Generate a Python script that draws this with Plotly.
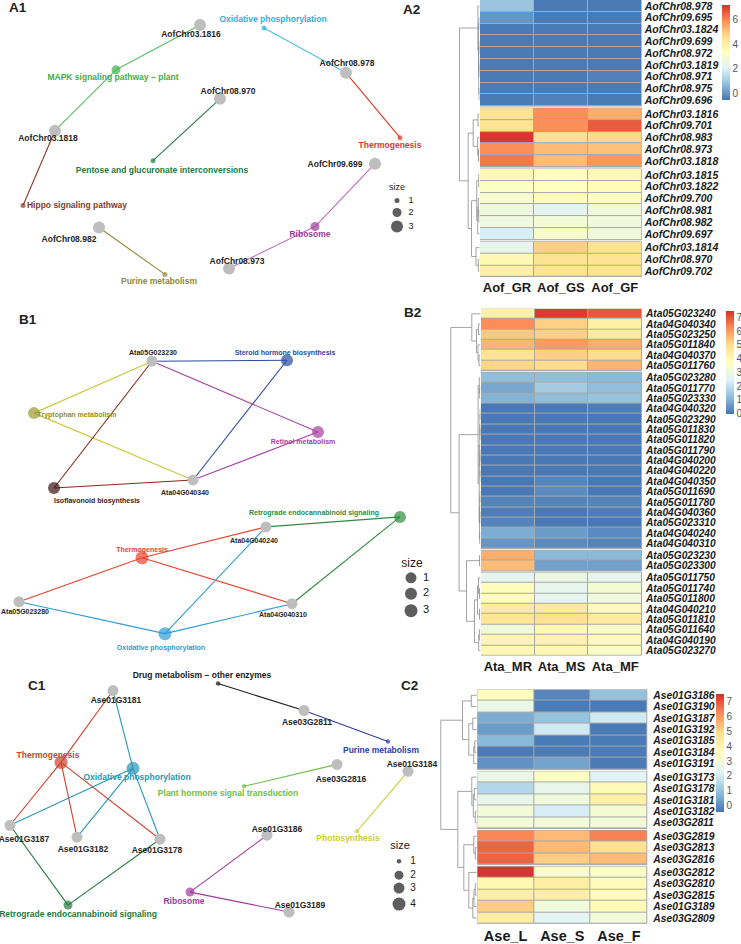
import plotly.graph_objects as go

W, H = 741, 944
FONT = "Liberation Sans, Arial, sans-serif"

# ======================= HEATMAP DATA =======================
A_COLS = ["Aof_GR", "Aof_GS", "Aof_GF"]
A_ROWS = ["AofChr08.978", "AofChr09.695", "AofChr03.1824", "AofChr09.699", "AofChr08.972",
          "AofChr03.1819", "AofChr08.971", "AofChr08.975", "AofChr09.696",
          "AofChr03.1816", "AofChr09.701", "AofChr08.983", "AofChr08.973", "AofChr03.1818",
          "AofChr03.1815", "AofChr03.1822", "AofChr09.700", "AofChr08.981", "AofChr08.982",
          "AofChr09.697", "AofChr03.1814", "AofChr08.970", "AofChr09.702"]
A_VALS = [[0.9, -0.45, -0.45], [0.0, -0.45, -0.45], [-0.45, -0.45, -0.45], [-0.45, -0.45, -0.45],
          [-0.45, -0.45, -0.45], [-0.45, -0.45, -0.45], [-0.45, -0.45, -0.35], [-0.45, -0.45, -0.45],
          [-0.45, -0.35, -0.45],
          [4.5, 5.9, 5.4], [4.5, 5.9, 6.6], [7.1, 4.6, 4.7], [5.9, 5.2, 5.1], [6.2, 5.2, 5.8],
          [3.6, 3.4, 3.6], [3.2, 3.3, 3.5], [3.0, 3.5, 3.2], [2.6, 2.2, 2.7], [2.6, 2.8, 2.7],
          [1.9, 3.0, 2.7], [2.3, 4.9, 4.5], [3.6, 4.5, 4.5], [4.0, 4.5, 4.5]]
A_GROUPS = [9, 5, 6, 3]
A_LINK = [[1, 2, 0.4], [3, 4, 0.3], [5, 6, 0.4], [7, 8, 0.3], [24, 25, 0.6], [27, 26, 0.8],
          [23, 28, 1.0], [0, 29, 1.6],
          [9, 10, 1.5], [12, 13, 1.0], [11, 32, 1.8], [31, 33, 6.3],
          [14, 15, 0.8], [17, 18, 0.6], [16, 36, 1.2], [37, 19, 1.8], [35, 38, 2.8],
          [21, 22, 1.2], [20, 40, 3.5], [39, 41, 8.0], [34, 42, 11.3], [30, 43, 20.0]]

B_COLS = ["Ata_MR", "Ata_MS", "Ata_MF"]
B_ROWS = ["Ata05G023240", "Ata04G040340", "Ata05G023250", "Ata05G011840", "Ata04G040370",
          "Ata05G011760", "Ata05G023280", "Ata05G011770", "Ata05G023330", "Ata04G040320",
          "Ata05G023290", "Ata05G011830", "Ata05G011820", "Ata05G011790", "Ata04G040200",
          "Ata04G040220", "Ata04G040350", "Ata05G011690", "Ata05G011780", "Ata04G040360",
          "Ata05G023310", "Ata04G040240", "Ata04G040310", "Ata05G023230", "Ata05G023300",
          "Ata05G011750", "Ata05G011740", "Ata05G011800", "Ata04G040210", "Ata05G011810",
          "Ata05G011640", "Ata04G040190", "Ata05G023270"]
B_VALS = [[4.3, 7.3, 6.9], [6.2, 5.2, 4.3], [5.3, 5.2, 4.5], [5.6, 6.0, 5.7], [4.8, 5.2, 5.0],
          [5.1, 5.0, 5.6], [1.2, 1.2, 1.1], [0.8, 1.5, 1.2], [1.0, 1.2, 1.3], [0.0, 0.0, 0.1],
          [0.0, 0.0, 0.0], [0.0, 0.0, 0.0], [0.0, 0.0, 0.0], [0.0, 0.0, 0.0], [0.0, 0.0, 0.0],
          [0.0, 0.0, 0.0], [0.0, 0.2, 0.0], [0.0, 0.3, 0.0], [0.2, 0.2, 0.2], [0.1, 0.0, 0.1],
          [0.2, 0.0, 0.0], [0.9, 0.6, 0.3], [0.5, 0.3, 0.2], [5.7, 1.1, 1.1], [5.5, 0.7, 0.7],
          [2.6, 2.9, 2.7], [3.8, 2.7, 3.3], [3.8, 2.7, 3.1], [4.5, 4.6, 3.9], [4.7, 4.9, 4.5],
          [3.1, 4.0, 3.5], [4.1, 4.2, 3.9], [4.0, 4.0, 3.5]]
B_GROUPS = [6, 17, 2, 8]
B_LINK = [[1, 2, 2.0], [4, 5, 1.5], [3, 34, 2.5], [33, 35, 4.0], [0, 36, 8.7],
          [7, 8, 0.8], [6, 38, 1.2], [9, 10, 0.3], [11, 12, 0.3], [40, 41, 0.5], [13, 14, 0.3],
          [15, 16, 0.3], [43, 44, 0.5], [42, 45, 0.7], [17, 18, 0.4], [19, 20, 0.4], [47, 48, 0.6],
          [21, 22, 0.8], [49, 50, 1.0], [46, 51, 1.3], [39, 52, 2.4],
          [23, 24, 1.0],
          [26, 27, 1.0], [25, 55, 2.0], [28, 29, 1.0], [56, 57, 3.0], [30, 31, 1.2], [59, 32, 1.8],
          [58, 60, 6.0], [54, 61, 14.0], [53, 62, 21.4], [37, 63, 29.7]]

C_COLS = ["Ase_L", "Ase_S", "Ase_F"]
C_ROWS = ["Ase01G3186", "Ase01G3190", "Ase01G3187", "Ase01G3192", "Ase01G3185", "Ase01G3184",
          "Ase01G3191", "Ase01G3173", "Ase01G3178", "Ase01G3181", "Ase01G3182", "Ase03G2811",
          "Ase03G2819", "Ase03G2813", "Ase03G2816", "Ase03G2812", "Ase03G2810", "Ase03G2815",
          "Ase01G3189", "Ase03G2809"]
C_VALS = [[3.6, -0.1, 1.0], [2.7, -0.3, -0.3], [0.6, 1.0, 2.0], [0.3, 2.0, -0.3], [0.8, -0.3, -0.3],
          [-0.3, -0.3, -0.3], [0.1, 0.4, -0.3], [2.7, 3.5, 2.3], [1.5, 2.6, 3.8], [2.6, 2.9, 4.2],
          [3.0, 2.1, 3.1], [3.0, 3.0, 3.0], [6.3, 5.5, 6.4], [6.8, 5.5, 4.8], [6.8, 5.2, 5.5],
          [7.5, 3.4, 3.4], [3.9, 4.3, 3.7], [4.3, 4.3, 3.7], [5.2, 2.9, 3.8], [4.3, 2.4, 3.0]]
C_GROUPS = [7, 5, 3, 5]
C_LINK = [[0, 1, 5.5], [2, 3, 4.0], [4, 5, 2.0], [22, 6, 3.0], [21, 23, 8.0], [20, 24, 14.3],
          [8, 9, 2.5], [10, 11, 1.5], [26, 27, 3.5], [7, 28, 5.0],
          [13, 14, 1.5], [12, 30, 3.0],
          [16, 17, 1.5], [32, 18, 2.8], [33, 19, 4.0], [15, 34, 8.0],
          [31, 35, 13.0], [29, 36, 19.0], [25, 37, 36.0]]

A_CTICKS = [0, 2, 4, 6]
B_CTICKS = [0, 1, 2, 3, 4, 5, 6, 7]
C_CTICKS = [0, 1, 2, 3, 4, 5, 6, 7]

# ======================= NETWORK DATA =======================
A_GENES = ["AofChr03.1816", "AofChr08.978", "AofChr08.970", "AofChr03.1818",
           "AofChr09.699", "AofChr08.982", "AofChr08.973"]
A_PATHS = ["Oxidative phosphorylation", "MAPK signaling pathway \u2212 plant", "Thermogenesis",
           "Pentose and glucuronate interconversions", "Hippo signaling pathway", "Ribosome",
           "Purine metabolism"]
A_PSIZE = [1, 2, 1, 1, 1, 2, 1]
A_EDGES = [("AofChr03.1816", 1), ("AofChr03.1818", 1), ("AofChr03.1818", 4),
           ("AofChr08.978", 0), ("AofChr08.978", 2), ("AofChr08.970", 3),
           ("AofChr09.699", 5), ("AofChr08.973", 5), ("AofChr08.982", 6)]

B_GENES = ["Ata05G023230", "Ata04G040340", "Ata04G040240", "Ata05G023280", "Ata04G040310"]
B_PATHS = ["Steroid hormone biosynthesis", "Tryptophan metabolism", "Retinol metabolism",
           "Isoflavonoid biosynthesis", "Retrograde endocannabinoid signaling", "Thermogenesis",
           "Oxidative phosphorylation"]
B_PSIZE = [2, 2, 2, 2, 2, 3, 3]
B_EDGES = [("Ata05G023230", 0), ("Ata05G023230", 1), ("Ata05G023230", 3), ("Ata05G023230", 2),
           ("Ata04G040340", 0), ("Ata04G040340", 1), ("Ata04G040340", 3), ("Ata04G040340", 2),
           ("Ata04G040240", 4), ("Ata04G040240", 5), ("Ata04G040240", 6),
           ("Ata05G023280", 5), ("Ata05G023280", 6),
           ("Ata04G040310", 5), ("Ata04G040310", 6), ("Ata04G040310", 4)]

C_GENES = ["Ase01G3181", "Ase03G2811", "Ase03G2816", "Ase01G3184", "Ase01G3187", "Ase01G3182",
           "Ase01G3178", "Ase01G3186", "Ase01G3189"]
C_PATHS = ["Drug metabolism \u2212 other enzymes", "Purine metabolism", "Thermogenesis",
           "Oxidative phosphorylation", "Plant hormone signal transduction", "Photosynthesis",
           "Ribosome", "Retrograde endocannabinoid signaling"]
C_PSIZE = [1, 1, 4, 4, 1, 1, 2, 2]
C_EDGES = [("Ase03G2811", 0), ("Ase03G2811", 1), ("Ase01G3181", 2), ("Ase01G3181", 3),
           ("Ase01G3187", 2), ("Ase01G3182", 2), ("Ase01G3178", 2),
           ("Ase01G3187", 3), ("Ase01G3182", 3), ("Ase01G3178", 3),
           ("Ase01G3187", 7), ("Ase01G3178", 7), ("Ase03G2816", 4), ("Ase01G3184", 5),
           ("Ase01G3186", 6), ("Ase01G3189", 6)]

# ---- network layout (graph layout coordinates, page-pixel units) ----
A_GXY = [(200, 25), (346, 73), (220, 99), (55, 131), (375, 164), (99, 228), (229, 269)]
A_GLAB = [(191, 35), (347, 64), (228, 92), (48, 139), (335, 165), (69, 240), (237, 262)]
A_PXY = [(264, 28), (116, 70), (400, 138), (153, 161), (23, 206), (315, 227), (165, 275)]
A_PLAB = [(273, 20), (113, 78), (390, 146), (162, 171), (77, 206), (310, 235), (159, 282)]
A_PCOL = ["#2BB3D5", "#3DB049", "#E0392B", "#237A43", "#8B3A28", "#9E3C9C", "#8E8A3A"]
A_ECOL = ["#4CC0DD", "#5BBE63", "#E0392B", "#237A43", "#8B3A28", "#C06CC0", "#8E8A3A"]

B_GXY = [(152, 362), (193, 481), (266, 528), (19, 603), (292, 605)]
B_GLAB = [(153, 354), (185, 494), (254, 542), (25, 614), (283, 617)]
B_PXY = [(287, 361), (34, 414), (318, 433), (54, 489), (400, 518), (142, 559), (165, 635)]
B_PLAB = [(285, 354), (77, 416), (303, 443), (97, 502), (314, 514), (142, 551), (161, 650)]
B_PCOL = ["#2A4A9F", "#9A9A32", "#A640A3", "#3A1414", "#2E8B3F", "#E8412F", "#2F9BD5"]
B_ECOL = ["#2A4A9F", "#CACA3C", "#A640A3", "#8A2A18", "#2E8B3F", "#E8412F", "#2F9BD5"]
B_LCOL = ["#2A4A9F", "#8F8F30", "#A640A3", "#3A1A1A", "#2E8B3F", "#E8412F", "#2F9BD5"]

C_GXY = [(113, 692), (304, 712), (337, 766), (408, 773), (10, 827), (77, 839), (160, 841),
         (267, 837), (289, 914)]
C_GLAB = [(116, 702), (307, 724), (341, 782), (412, 767), (24, 842), (83, 852), (157, 853),
          (277, 832), (300, 908)]
C_PXY = [(218, 685), (388, 743), (61, 764), (133, 770), (244, 788), (357, 833), (190, 894),
         (68, 907)]
C_PLAB = [(202, 677), (381, 752), (48, 757), (137, 780), (228, 796), (348, 841), (184, 904),
          (78, 917)]
C_PCOL = ["#1A1A1A", "#2B3FA0", "#D0402E", "#2A95B8", "#6DBE45", "#CCCC33", "#A0399E", "#237A40"]

RDYLBU7 = ["#4575B4", "#91BFDB", "#E0F3F8", "#FFFFBF", "#FEE090", "#FC8D59", "#D73027"]
CSCALE = [[i / 6, c] for i, c in enumerate(RDYLBU7)]

fig = go.Figure()
layout = dict(width=W, height=H, margin=dict(l=0, r=0, t=0, b=0),
              paper_bgcolor="white", plot_bgcolor="white", showlegend=False)
shapes = []
annotations = []


def px_x(x):
    return x / W


def px_y(y):
    return 1 - y / H


def hide_axis(**kw):
    d = dict(visible=False, showgrid=False, zeroline=False, fixedrange=True)
    d.update(kw)
    return d


# ======================= NETWORKS =======================
def add_network(k, ytop, ybot, genes, gxy, glab, paths, pxy, plab, psize, pcol, ecol, lcol,
                edges, smap, gene_d, fsize, weight, legend):
    xa, ya = f"x{k}", f"y{k}"
    layout[f"xaxis{k}"] = hide_axis(domain=[0, px_x(440)], range=[0, 440], anchor=ya)
    layout[f"yaxis{k}"] = hide_axis(domain=[px_y(ybot), px_y(ytop)], range=[ybot, ytop], anchor=xa)
    gidx = {g: i for i, g in enumerate(genes)}
    for p in range(len(paths)):
        ex, ey = [], []
        for g, pi in edges:
            if pi == p:
                ex += [pxy[p][0], gxy[gidx[g]][0], None]
                ey += [pxy[p][1], gxy[gidx[g]][1], None]
        if ex:
            fig.add_trace(go.Scatter(x=ex, y=ey, mode="lines", xaxis=xa, yaxis=ya,
                                     line=dict(color=ecol[p], width=1.1), hoverinfo="skip"))
    fig.add_trace(go.Scatter(x=[c[0] for c in gxy], y=[c[1] for c in gxy], mode="markers",
                             xaxis=xa, yaxis=ya, hoverinfo="skip",
                             marker=dict(size=gene_d, color="#BEBEBE", line=dict(width=0))))
    fig.add_trace(go.Scatter(x=[c[0] for c in pxy], y=[c[1] for c in pxy], mode="markers",
                             xaxis=xa, yaxis=ya, hoverinfo="skip",
                             marker=dict(size=[smap[s] for s in psize], color=pcol,
                                         line=dict(width=0))))
    fig.add_trace(go.Scatter(x=[c[0] for c in glab] + [c[0] for c in plab],
                             y=[c[1] for c in glab] + [c[1] for c in plab],
                             text=genes + paths, mode="text", xaxis=xa, yaxis=ya,
                             cliponaxis=False, hoverinfo="skip",
                             textfont=dict(family=FONT, size=fsize, weight=weight,
                                           color=["#262626"] * len(genes) + lcol)))
    (tx, ty, tsize), cx, cys, lx, lsize = legend
    levels = sorted(smap.keys())
    fig.add_trace(go.Scatter(x=[cx] * len(levels), y=cys, mode="markers", xaxis=xa, yaxis=ya,
                             hoverinfo="skip",
                             marker=dict(size=[smap[s] for s in levels], color="#1A1A1A",
                                         line=dict(width=0))))
    fig.add_trace(go.Scatter(x=[tx] + [lx] * len(levels), y=[ty] + cys,
                             text=["size"] + [str(s) for s in levels], mode="text",
                             xaxis=xa, yaxis=ya, cliponaxis=False, hoverinfo="skip",
                             textfont=dict(family=FONT, size=[tsize] + [lsize] * len(levels),
                                           color="#1A1A1A")))


add_network(1, 0, 300, A_GENES, A_GXY, A_GLAB, A_PATHS, A_PXY, A_PLAB, A_PSIZE, A_PCOL, A_ECOL,
            A_PCOL, A_EDGES, {1: 5, 2: 9, 3: 12}, 12, 8.5, "bold",
            ((397, 188, 9), 397, [201, 213, 227], 411, 9))
add_network(2, 300, 660, B_GENES, B_GXY, B_GLAB, B_PATHS, B_PXY, B_PLAB, B_PSIZE, B_PCOL, B_ECOL,
            B_LCOL, B_EDGES, {1: 11, 2: 12, 3: 13}, 11, 7, "bold",
            ((412, 565, 12), 411, [579, 595, 612], 426, 11))
add_network(3, 660, 944, C_GENES, C_GXY, C_GLAB, C_PATHS, C_PXY, C_PLAB, C_PSIZE, C_PCOL, C_PCOL,
            C_PCOL, C_EDGES, {1: 4.5, 2: 9, 3: 11, 4: 13}, 11, 8.5, "bold",
            ((400, 848, 11), 399, [863, 877, 890, 906], 413, 10))


# ======================= HEATMAPS =======================
def row_centers(groups, gap):
    cs, off, i = [], 0.0, 0
    for gi, g in enumerate(groups):
        for _ in range(g):
            cs.append(off + i + 0.5)
            i += 1
        off += gap
    return cs, off - gap + i


def add_heatmap(k, dk, cax, rows, cols, vals, groups, link, box, gap, rfont, cfont,
                rstand, cstand, cbar):
    left, right, top, bot = box
    xa, ya, xd = f"x{k}", f"y{k}", f"x{dk}"
    cs, total = row_centers(groups, gap)
    layout[f"xaxis{k}"] = dict(domain=[px_x(left), px_x(right)], range=[-0.5, 2.5], anchor=ya,
                               tickvals=[0, 1, 2], ticktext=[f"<b>{c}</b>" for c in cols],
                               ticks="", showgrid=False, zeroline=False, showline=False,
                               tickfont=dict(family=FONT, size=cfont, color="#1A1A1A"),
                               ticklabelstandoff=cstand, ticklabeloverflow="allow",
                               fixedrange=True)
    layout[f"yaxis{k}"] = dict(domain=[px_y(bot), px_y(top)], range=[total, 0], anchor=xa,
                               side="right", tickvals=cs,
                               ticktext=[f"<b><i>{r}</i></b>" for r in rows],
                               ticks="", showgrid=False, zeroline=False, showline=False,
                               tickfont=dict(family=FONT, size=rfont, color="#1A1A1A"),
                               ticklabelstandoff=rstand, ticklabeloverflow="allow",
                               fixedrange=True)
    start = 0
    for g in groups:
        yy = cs[start:start + g]
        shapes.append(dict(type="rect", xref=xa, yref=ya, x0=-0.5, x1=2.5,
                           y0=yy[0] - 0.5, y1=yy[-1] + 0.5, layer="below",
                           fillcolor="#A8A8A8", line=dict(color="#A8A8A8", width=1)))
        fig.add_trace(go.Heatmap(x=[0, 1, 2], y=yy, z=vals[start:start + g], xaxis=xa, yaxis=ya,
                                 coloraxis=cax, xgap=1, ygap=1, hoverinfo="skip"))
        start += g
    n = len(rows)
    pos = {i: (0.0, cs[i]) for i in range(n)}
    dx, dy = [], []
    for j, (a, b, h) in enumerate(link):
        ha, ya_ = pos[a]
        hb, yb = pos[b]
        dx += [ha, h, h, hb, None]
        dy += [ya_, ya_, yb, yb, None]
        pos[n + j] = (h, (ya_ + yb) / 2)
    root = link[-1][2]
    layout[f"xaxis{dk}"] = hide_axis(domain=[px_x(left - root - 1.5), px_x(left - 0.5)],
                                     range=[root + 1, 0], anchor=ya)
    fig.add_trace(go.Scatter(x=dx, y=dy, mode="lines", xaxis=xd, yaxis=ya, hoverinfo="skip",
                             line=dict(color="#8C8C8C", width=0.8)))
    cx, ctop, clen, cmin, cmax, ticks, tsize = cbar
    layout[cax] = dict(colorscale=CSCALE, cmin=cmin, cmax=cmax,
                       colorbar=dict(x=px_x(cx), xanchor="left", y=px_y(ctop), yanchor="top",
                                     len=clen, lenmode="pixels", thickness=8,
                                     thicknessmode="pixels", xpad=0, ypad=0, outlinewidth=0,
                                     ticks="", tickvals=ticks,
                                     tickfont=dict(family=FONT, size=tsize, color="#555555")))


add_heatmap(4, 7, "coloraxis", A_ROWS, A_COLS, A_VALS, A_GROUPS, A_LINK,
            (480, 641.7, 0, 277.7), 0.17, 10.5, 13, 2, 1,
            (722, 5, 95, -0.55, 7.2, A_CTICKS, 10))
add_heatmap(5, 8, "coloraxis2", B_ROWS, B_COLS, B_VALS, B_GROUPS, B_LINK,
            (481, 642, 309.3, 657), 0.165, 10.2, 13, 3, 1,
            (726, 312, 103, -0.05, 7.45, B_CTICKS, 10))
add_heatmap(6, 9, "coloraxis3", C_ROWS, C_COLS, C_VALS, C_GROUPS, C_LINK,
            (477.3, 647.3, 691, 925.7), 0.175, 10.3, 14.5, 5, 2,
            (716, 695, 118, -0.4, 7.55, C_CTICKS, 10))

for txt, x, y in [("A1", 18, 8), ("A2", 411, 10), ("B1", 28, 320), ("B2", 412, 313),
                  ("C1", 37, 687), ("C2", 409, 687)]:
    annotations.append(dict(text=f"<b>{txt}</b>", x=px_x(x), y=px_y(y), xref="paper",
                            yref="paper", showarrow=False, xanchor="center", yanchor="middle",
                            font=dict(family=FONT, size=13.5, color="#222222")))

layout["shapes"] = shapes
layout["annotations"] = annotations
fig.update_layout(**layout)
fig.write_html("out.html", config={"displayModeBar": False, "staticPlot": True},
               post_script="document.body.style.margin='0';document.body.style.overflow='hidden';")
